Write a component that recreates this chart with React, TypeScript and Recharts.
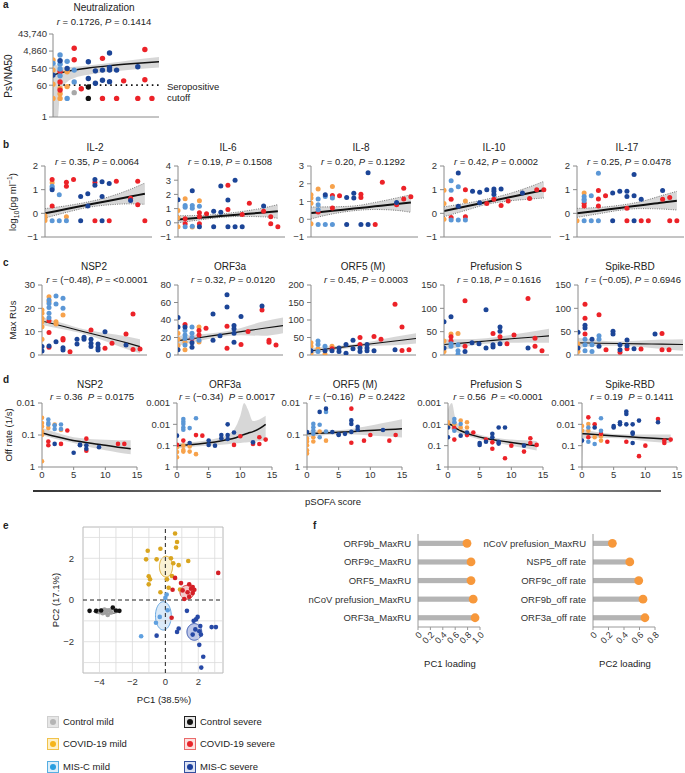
import React from 'react';
import {
  Area,
  Bar,
  BarChart,
  ComposedChart,
  Line,
  ReferenceArea,
  ReferenceLine,
  Scatter,
  XAxis,
  YAxis,
} from 'recharts';

// [pSOFA, value, group]  groups: 0 ctrl mild, 1 ctrl severe, 2 covid mild, 3 covid severe, 4 MIS-C mild, 5 MIS-C severe
type Pt = [number, number, number];
// [x, fit, band low, band high]
type Fit = [number, number, number, number];

const FONT = "'Liberation Sans', Arial, Helvetica, sans-serif";
const COL = ['#a8a8a8', '#111111', '#f7a24b', '#ec2228', '#5b97d6', '#1c4597'];
const E_COL = ['#a0a0a0', '#111111', '#d9a51f', '#d41f26', '#5fa0e0', '#2749a6'];
const GROUPS = [0, 1, 2, 3, 4, 5];
const PSOFA_TICKS = [0, 1, 2, 3, 4, 5, 6, 7, 8, 9, 10, 11, 12, 13, 14, 15];
const PSOFA_LABELS = [0, 5, 10, 15];

// ---- a: neutralization ----
const NEUT: Pt[] = [
  [0, 1550, 2], [0, 420, 2], [0, 68, 2], [0, 11, 2], [0, 220, 5], [0, 1000, 4],
  [1, 11, 2], [1, 20, 2], [1, 40, 2], [1, 900, 4], [1, 480, 4], [1, 200, 4], [1, 2950, 4], [1, 1400, 5], [1, 340, 3], [1, 92, 3], [1, 32, 3],
  [2, 340, 2], [2, 50, 2], [2, 1290, 4], [2, 11, 4], [2, 520, 5],
  [3, 7000, 3], [3, 1600, 3], [3, 420, 4], [3, 92, 4], [3, 23, 0],
  [4, 38, 3],
  [5, 48, 1], [5, 11, 1], [5, 1230, 5], [5, 142, 5],
  [6, 380, 5], [6, 77, 5],
  [7, 420, 5], [7, 114, 5], [7, 1900, 3], [7, 11, 3],
  [8, 590, 5], [8, 420, 5], [8, 3800, 5], [8, 95, 5],
  [9, 420, 5], [9, 11, 3],
  [10, 105, 3],
  [12, 650, 5], [12, 11, 3],
  [13, 5900, 3], [13, 120, 3],
  [14, 11, 3],
];
const NEUT_FIT: Fit[] = [
  [0, 220, 1, 950], [0.7, 265, 1, 720], [1, 285, 25, 650], [2, 350, 90, 600], [3, 420, 150, 640],
  [5, 550, 230, 770], [8, 750, 340, 1050], [11, 950, 440, 1500], [15, 1230, 580, 2300],
];
const NEUT_TICKS = [1, 60, 540, 4860, 43740];
const CUTOFF = 60;

// ---- b: cytokines ----
const IL2: Pt[] = [
  [0, -0.2, 2], [0, -0.3, 2], [0, -0.1, 2],
  [1, 1.14, 4], [1, 1.07, 4], [1, 1.0, 5], [1, 1.29, 2], [1, 1.43, 3], [1, 0.31, 3], [1, -0.31, 4],
  [2, 0.79, 4], [2, -0.31, 4],
  [3, 1.31, 3], [3, 1.14, 3], [3, -0.14, 2], [3, -0.31, 4],
  [4, 1.43, 3],
  [5, 0.71, 5], [5, -0.31, 5],
  [6, 0.83, 5], [6, 0.31, 5],
  [7, 1.43, 5], [7, 1.3, 3], [7, 1.19, 5], [7, -0.31, 3],
  [8, 1.33, 5], [8, 0.71, 5], [8, -0.31, 5],
  [9, 1.26, 5], [9, -0.31, 3],
  [10, 1.36, 3],
  [12, 0.64, 3], [12, 0.54, 5],
  [13, 1.36, 3], [13, 0.36, 3],
  [14, -0.31, 3],
];
const IL2_FIT: Fit[] = [[0, 0, -0.2, 0.2], [3, 0.18, 0.04, 0.32], [6, 0.36, 0.25, 0.48], [9, 0.53, 0.36, 0.7], [12, 0.71, 0.4, 1.02], [14, 0.83, 0.38, 1.28]];

const IL6: Pt[] = [
  [0, 1.63, 5], [0, 0.86, 2], [0, 0.35, 2], [0, -0.28, 2],
  [1, 1.7, 2], [1, 1.21, 4], [1, 1.1, 4], [1, 0.28, 3], [1, -0.07, 3], [1, -0.28, 4],
  [2, 2.26, 5], [2, 1.21, 4], [2, 1.02, 4], [2, -0.3, 2], [2, -0.25, 4],
  [3, 1.56, 2], [3, 1.16, 4], [3, 0.7, 3], [3, 0.42, 3], [3, -0.07, 3], [3, -0.28, 5],
  [4, 0.63, 3],
  [5, -0.28, 5], [5, 0.81, 5],
  [6, 0.74, 5], [6, 2.6, 5],
  [7, 2.65, 3], [7, 0.93, 3], [7, 1.6, 5], [7, -0.28, 5],
  [8, 3.0, 5], [8, -0.28, 5],
  [9, -0.28, 5], [9, 0.58, 3],
  [10, 1.37, 3],
  [12, 1.19, 5], [12, 0.81, 3],
  [13, 0.42, 3], [13, -0.07, 3],
  [14, -0.28, 3],
];
const IL6_FIT: Fit[] = [[0, 0.23, 0, 0.5], [3, 0.35, 0.2, 0.52], [6, 0.48, 0.38, 0.62], [9, 0.6, 0.45, 0.8], [12, 0.72, 0.42, 1.05], [14, 0.81, 0.32, 1.28]];

const IL8: Pt[] = [
  [0, 1.38, 2], [0, 1.2, 2], [0, 0.9, 2], [0, -0.26, 2],
  [1, 1.7, 2], [1, 1.14, 4], [1, 0.82, 4], [1, 0.54, 4], [1, 0.41, 3], [1, -0.3, 4],
  [2, 1.38, 5], [2, 1.28, 4], [2, -0.3, 4],
  [3, 1.84, 2], [3, 1.34, 3], [3, 1.2, 4], [3, 0.63, 3], [3, -0.3, 4],
  [4, 1.32, 3],
  [5, 1.23, 5], [5, -0.3, 5],
  [6, 1.46, 5], [6, 1.2, 5],
  [7, 1.41, 3], [7, 1.23, 3], [7, -0.3, 5],
  [8, 2.62, 5], [8, -0.3, 5],
  [9, -0.3, 3],
  [10, 2.08, 3],
  [12, 0.95, 5], [12, 0.82, 3],
  [13, 1.75, 3], [13, 1.14, 3],
  [14, 1.27, 3],
];
const IL8_FIT: Fit[] = [[0, 0.35, 0.02, 0.69], [3, 0.48, 0.3, 0.7], [6, 0.6, 0.48, 0.75], [9, 0.73, 0.55, 0.95], [12, 0.86, 0.5, 1.2], [14, 0.95, 0.39, 1.38]];

const IL10: Pt[] = [
  [0, 0.42, 2], [0, -0.25, 2], [0, 0.98, 2],
  [1, 0.98, 4], [1, 1.38, 4], [1, 0.59, 3], [1, -0.18, 3], [1, -0.28, 4],
  [2, 1.7, 5], [2, 1.12, 4], [2, 0.3, 5], [2, -0.28, 4],
  [3, 1.0, 3], [3, 0.52, 2], [3, -0.14, 3], [3, -0.28, 4],
  [4, 0.93, 5],
  [5, 0.89, 5], [5, 0.45, 5],
  [6, 1.0, 5], [6, 0.42, 3],
  [7, 1.03, 5], [7, 0.93, 5], [7, 0.8, 5], [7, 0.59, 3],
  [8, 0.33, 3], [8, 1.03, 5],
  [9, 0.52, 3],
  [11, 0.86, 5],
  [12, 0.63, 3], [13, 1.0, 3], [14, 1.0, 3],
];
const IL10_FIT: Fit[] = [[0, 0.1, -0.14, 0.28], [3, 0.29, 0.12, 0.42], [6, 0.48, 0.38, 0.6], [9, 0.67, 0.52, 0.82], [12, 0.86, 0.6, 1.12], [14, 0.98, 0.65, 1.35]];

const IL17: Pt[] = [
  [0, -0.31, 2],
  [1, 0.86, 2], [1, 0.71, 4], [1, 0.6, 4], [1, 0.53, 4], [1, 0.43, 3], [1, 0.31, 3], [1, -0.31, 4],
  [2, 0.74, 4], [2, -0.31, 4],
  [3, 0.96, 3], [3, 1.69, 4], [3, 0.61, 3], [3, 0.31, 3], [3, -0.31, 4],
  [4, 0.74, 3],
  [5, 0.86, 5], [5, -0.31, 5],
  [6, 0.93, 5],
  [7, 0.93, 5], [7, 0.71, 5], [7, 0.21, 3], [7, -0.31, 3],
  [8, 1.64, 5], [8, 0.74, 5], [8, -0.31, 5],
  [9, -0.31, 3], [9, 0.6, 5],
  [10, -0.31, 3],
  [12, 0.97, 5], [12, 0.6, 3],
  [13, -0.31, 3], [13, 0.67, 3],
  [14, -0.31, 3],
];
const IL17_FIT: Fit[] = [[0, 0, -0.17, 0.21], [3, 0.11, -0.02, 0.25], [6, 0.23, 0.13, 0.34], [9, 0.34, 0.2, 0.5], [12, 0.46, 0.18, 0.76], [14, 0.53, 0.14, 0.93]];

const B_TITLES = ['IL-2', 'IL-6', 'IL-8', 'IL-10', 'IL-17'];
const B_R = ['0.35', '0.19', '0.20', '0.42', '0.25'];
const B_P = ['0.0064', '0.1508', '0.1292', '0.0002', '0.0478'];
const B_TICKS = [[-1, 0, 1, 2], [-1, 0, 1, 2, 3, 4], [-1, 0, 1, 2, 3], [-1, 0, 1, 2], [-1, 0, 1, 2]];
const B_PTS = [IL2, IL6, IL8, IL10, IL17];
const B_FITS = [IL2_FIT, IL6_FIT, IL8_FIT, IL10_FIT, IL17_FIT];

// ---- c: max RUs ----
const NSP2_RU: Pt[] = [
  [0, 19.3, 2], [0, 17.9, 2], [0, 15.7, 2], [0, 14.3, 2], [0, 12.1, 2], [0, 6.7, 2], [0, 3.6, 5], [0, 1.7, 5],
  [1, 25, 2], [1, 22.9, 2], [1, 23.6, 4], [1, 22.1, 4], [1, 20.4, 4], [1, 17.9, 4], [1, 16, 4], [1, 14.7, 3], [1, 9.6, 3], [1, 3.9, 5], [1, 3.3, 3],
  [2, 25.3, 4], [2, 21.9, 4], [2, 14.3, 2], [2, 13.3, 2], [2, 5.7, 5],
  [3, 24.3, 4], [3, 20, 4], [3, 17.1, 2], [3, 7.1, 3], [3, 6.4, 3], [3, 3.1, 5], [3, 2.1, 5],
  [4, 1.4, 3],
  [5, 6.7, 5], [5, 4.7, 5],
  [6, 7.6, 5], [6, 6.7, 5],
  [7, 6.7, 5], [7, 5, 5], [7, 3.6, 5], [7, 10.7, 3],
  [8, 4.7, 5], [8, 3.1, 5], [8, 2.1, 5],
  [9, 10, 5], [9, 2.9, 3],
  [10, 5, 3],
  [12, 4.3, 5], [12, 9, 3],
  [13, 17.6, 3], [13, 2.4, 3],
  [14, 2.6, 3],
];
const NSP2_RU_FIT: Fit[] = [[0, 14.6, 12.9, 16.3], [3, 12.3, 11, 13.6], [6, 10, 9, 11], [9, 7.7, 6, 9.4], [12, 5.3, 2.6, 8], [14, 3.6, 0.7, 6.7]];

const ORF3A_RU: Pt[] = [
  [0, 43, 5], [0, 32, 5], [0, 25, 2], [0, 18, 2], [0, 11, 2], [0, 6, 5],
  [1, 35, 3], [1, 32, 5], [1, 28, 4], [1, 23, 4], [1, 19, 4], [1, 14.5, 2], [1, 11.5, 4], [1, 6, 2],
  [2, 32, 4], [2, 25, 4], [2, 20, 4], [2, 14, 5], [2, 9, 5], [2, 19, 3],
  [3, 32, 2], [3, 28, 3], [3, 23, 3], [3, 15, 2], [3, 17, 4],
  [4, 30.5, 3],
  [5, 47, 5], [5, 17, 5],
  [6, 22, 5],
  [7, 69, 5], [7, 55, 5], [7, 33, 3], [7, 7.6, 3],
  [8, 33.6, 5], [8, 30, 5], [8, 25, 5], [8, 14.5, 5],
  [9, 44, 5], [9, 12, 3],
  [10, 27, 3],
  [12, 56, 5], [12, 51.5, 3],
  [13, 17, 3], [13, 14.5, 3],
  [14, 11.5, 3],
];
const ORF3A_RU_FIT: Fit[] = [[0, 16.4, 10.7, 22], [3, 19.8, 16, 23.5], [6, 23.3, 20.5, 26], [9, 26.7, 22.5, 31], [12, 30.2, 22, 38], [15, 33.6, 25, 43]];

const ORF5_RU: Pt[] = [
  [0, 12, 5], [0, 25, 2], [0, 35, 2], [0, 5, 2],
  [1, 10, 4], [1, 18, 2], [1, 30, 4], [1, 40, 4],
  [2, 12, 5], [2, 25, 4], [2, 2, 2],
  [3, 12, 5], [3, 25, 2], [3, 18, 3],
  [4, 20, 5], [4, 10, 5],
  [5, 30, 5], [5, 5, 5],
  [6, 42, 5], [6, 18, 5],
  [7, 50, 3], [7, 30, 3], [7, 20, 5], [7, 10, 5],
  [8, 30, 5], [8, 20, 5], [8, 12, 5],
  [9, 53, 3], [9, 12, 5],
  [10, 45, 3],
  [12, 145, 3], [12, 15, 5],
  [13, 80, 3], [13, 13, 3],
  [14, 15, 3],
];
const ORF5_RU_FIT: Fit[] = [[0, 12, 5, 20], [3, 19, 13, 25], [6, 26, 21, 31], [9, 33, 26, 40], [12, 40, 28, 52], [15, 47, 33, 62]];

const PRE_RU: Pt[] = [
  [0, 71, 5], [0, 15, 5], [0, 30, 2], [0, 7.5, 2],
  [1, 82, 5], [1, 39, 3], [1, 30, 3], [1, 24, 4], [1, 19, 4], [1, 45, 2],
  [2, 46, 2], [2, 22, 4], [2, 9, 4], [2, 1.5, 4],
  [3, 116, 3], [3, 19, 3], [3, 7.5, 5],
  [4, 26, 5],
  [5, 24, 5],
  [6, 97, 5], [6, 15, 5],
  [7, 46, 3], [7, 22, 5], [7, 17, 5],
  [8, 60, 5], [8, 51, 5], [8, 39, 3], [8, 24, 5],
  [9, 24, 3],
  [10, 43, 3],
  [12, 121, 3], [12, 15, 5],
  [13, 36, 3], [13, 19, 3],
  [14, 9, 3],
];
const PRE_RU_FIT: Fit[] = [[0, 22.5, 11, 34], [3, 26, 18, 34], [6, 30, 24, 36], [9, 34, 26, 42], [12, 37.5, 27, 49], [15, 41, 26, 56]];

const RBD_RU: Pt[] = [
  [0, 49, 5], [0, 15, 5], [0, 24, 2], [0, 7.5, 2],
  [1, 109, 3], [1, 79, 3], [1, 64, 5], [1, 58, 5], [1, 45, 3], [1, 34, 4], [1, 22, 4], [1, 9, 4],
  [2, 34, 5], [2, 22, 4], [2, 7.5, 4],
  [3, 86, 3], [3, 41, 4], [3, 34, 4], [3, 19, 5],
  [4, 11, 3],
  [5, 51, 5], [5, 45, 5],
  [6, 22, 5], [6, 11, 5], [6, 6, 3],
  [7, 32, 5], [7, 20, 5], [7, 13.5, 3],
  [8, 13.5, 5],
  [9, 13, 3],
  [11, 45, 5],
  [12, 46, 3], [12, 11, 3],
  [13, 11, 3],
];
const RBD_RU_FIT: Fit[] = [[0, 26, 15, 37], [3, 25.3, 20, 31], [6, 24.6, 20, 29], [9, 23.9, 17, 31], [12, 23.2, 13, 33], [15, 22.5, 9, 34]];

const C_TITLES = ['NSP2', 'ORF3a', 'ORF5 (M)', 'Prefusion S', 'Spike-RBD'];
const C_R = ['(−0.48)', '0.32', '0.45', '0.18', '(−0.05)'];
const C_P = ['<0.0001', '0.0120', '0.0003', '0.1616', '0.6946'];
const C_TICKS = [[0, 10, 20, 30], [0, 20, 40, 60, 80], [0, 50, 100, 150, 200], [0, 50, 100, 150], [0, 50, 100, 150]];
const C_PTS = [NSP2_RU, ORF3A_RU, ORF5_RU, PRE_RU, RBD_RU];
const C_FITS = [NSP2_RU_FIT, ORF3A_RU_FIT, ORF5_RU_FIT, PRE_RU_FIT, RBD_RU_FIT];

// ---- d: off rates ----
const NSP2_OFF: Pt[] = [
  [0, 0.029, 2], [0, 0.042, 2], [0, 0.054, 2], [0, 0.077, 2], [0, 0.1, 2], [0, 0.66, 2],
  [1, 0.033, 4], [1, 0.042, 4], [1, 0.047, 4], [1, 0.06, 2], [1, 0.16, 3], [1, 0.21, 3],
  [2, 0.05, 4], [2, 0.065, 4], [2, 0.047, 2], [2, 0.19, 5],
  [3, 0.047, 4], [3, 0.065, 4], [3, 0.07, 2], [3, 0.19, 3],
  [4, 0.072, 3],
  [5, 0.36, 5],
  [6, 0.2, 5], [6, 0.21, 5],
  [7, 0.13, 3], [7, 0.21, 5], [7, 0.27, 5], [7, 0.31, 3],
  [9, 0.24, 5],
  [12, 0.19, 3], [13, 0.19, 3],
];
const NSP2_OFF_FIT: Fit[] = [
  [0, 0.087, 0.06, 0.1], [2, 0.11, 0.08, 0.13], [4, 0.135, 0.105, 0.16], [6, 0.16, 0.125, 0.2],
  [8, 0.185, 0.135, 0.25], [10, 0.21, 0.14, 0.3], [12, 0.24, 0.145, 0.35], [14, 0.27, 0.146, 0.4],
];

const ORF3A_OFF: Pt[] = [
  [0, 0.034, 5], [0, 0.12, 2], [0, 0.2, 2], [0, 0.35, 2], [0, 0.09, 3],
  [1, 0.0056, 4], [1, 0.0075, 4], [1, 0.0097, 4], [1, 0.014, 4], [1, 0.018, 4], [1, 0.058, 3], [1, 0.1, 2], [1, 0.19, 2], [1, 0.16, 2],
  [2, 0.015, 4], [2, 0.075, 5], [2, 0.19, 2], [2, 0.11, 2],
  [3, 0.0052, 4], [3, 0.032, 3], [3, 0.25, 2],
  [4, 0.034, 3],
  [5, 0.058, 5], [5, 0.092, 5],
  [6, 0.1, 5],
  [7, 0.032, 5], [7, 0.045, 5],
  [8, 0.01, 5], [8, 0.032, 5], [8, 0.049, 5],
  [9, 0.024, 5], [9, 0.092, 3],
  [10, 0.036, 3],
  [12, 0.07, 5], [12, 0.083, 3],
  [13, 0.04, 3], [13, 0.083, 3],
  [14, 0.052, 3],
];
const ORF3A_OFF_FIT: Fit[] = [
  [0, 0.1, 0.075, 0.135], [2, 0.09, 0.07, 0.115], [4, 0.08, 0.06, 0.105], [6, 0.067, 0.048, 0.095],
  [8, 0.052, 0.03, 0.085], [9, 0.045, 0.018, 0.08], [10, 0.035, 0.004, 0.075], [10.6, 0.03, 0.001, 0.072],
  [11.2, 0.026, 0.002, 0.07], [12, 0.022, 0.007, 0.066], [13, 0.016, 0.006, 0.06], [14, 0.01, 0.004, 0.055],
];

const ORF5_OFF: Pt[] = [
  [0, 0.21, 2], [0, 0.3, 2], [0, 0.38, 2], [0, 0.16, 2], [0, 0.081, 5], [0, 0.13, 2],
  [1, 0.072, 4], [1, 0.092, 4], [1, 0.057, 4], [1, 0.117, 2], [1, 0.16, 2], [1, 0.045, 4],
  [2, 0.019, 5], [2, 0.048, 4], [2, 0.078, 2], [2, 0.117, 4],
  [3, 0.015, 5], [3, 0.019, 4], [3, 0.078, 4], [3, 0.15, 2],
  [4, 0.081, 5],
  [5, 0.1, 5], [5, 0.095, 5],
  [6, 0.092, 5],
  [7, 0.015, 3], [7, 0.035, 5], [7, 0.045, 5], [7, 0.175, 3], [7, 0.08, 5],
  [8, 0.055, 5], [8, 0.068, 5],
  [9, 0.15, 3],
  [10, 0.1, 3],
  [12, 0.07, 5],
  [13, 0.15, 3],
  [14, 0.1, 3],
];
const ORF5_OFF_FIT: Fit[] = [[0, 0.092, 0.072, 0.117], [3, 0.086, 0.072, 0.1], [6, 0.08, 0.068, 0.095], [9, 0.074, 0.055, 0.1], [12, 0.069, 0.042, 0.11], [15, 0.064, 0.032, 0.12]];

const PRE_OFF: Pt[] = [
  [0, 0.014, 5], [0, 0.008, 2], [0, 0.04, 5], [0, 0.012, 2],
  [1, 0.0056, 4], [1, 0.008, 4], [1, 0.01, 2], [1, 0.015, 3], [1, 0.02, 4], [1, 0.052, 3],
  [2, 0.0067, 2], [2, 0.0097, 4], [2, 0.014, 2], [2, 0.034, 5],
  [3, 0.008, 2], [3, 0.014, 2], [3, 0.024, 5], [3, 0.032, 3],
  [4, 0.024, 3],
  [5, 0.075, 5], [5, 0.092, 5],
  [6, 0.065, 5], [6, 0.052, 3],
  [7, 0.028, 5], [7, 0.04, 5], [7, 0.14, 3], [7, 0.07, 3],
  [8, 0.014, 5], [8, 0.065, 5], [8, 0.08, 5],
  [9, 0.014, 5], [9, 0.39, 3],
  [10, 0.1, 3],
  [12, 0.19, 3], [12, 0.1, 5],
  [13, 0.045, 3], [13, 0.075, 3],
  [14, 0.092, 3],
];
const PRE_OFF_FIT: Fit[] = [
  [0, 0.009, 0.002, 0.015], [0.6, 0.011, 0.001, 0.018], [1.2, 0.015, 0.006, 0.022], [2, 0.02, 0.013, 0.028],
  [4, 0.033, 0.025, 0.043], [6, 0.046, 0.036, 0.06], [8, 0.058, 0.045, 0.077], [10, 0.071, 0.052, 0.1],
  [12, 0.085, 0.056, 0.13], [14, 0.1, 0.06, 0.17],
];

const RBD_OFF: Pt[] = [
  [0, 0.058, 5], [0, 0.02, 2], [0, 0.012, 2],
  [1, 0.0047, 3], [1, 0.0097, 2], [1, 0.014, 4], [1, 0.02, 2], [1, 0.04, 3], [1, 0.065, 4],
  [2, 0.014, 5], [2, 0.083, 4], [2, 0.01, 3], [2, 0.04, 2],
  [3, 0.0052, 4], [3, 0.02, 4], [3, 0.028, 3], [3, 0.036, 2], [3, 0.058, 2],
  [4, 0.065, 3],
  [5, 0.012, 5], [5, 0.014, 5],
  [6, 0.008, 5], [6, 0.01, 5],
  [7, 0.0025, 5], [7, 0.0033, 5], [7, 0.01, 5], [7, 0.065, 3],
  [8, 0.024, 5], [8, 0.028, 5], [8, 0.075, 5], [8, 0.01, 5],
  [9, 0.0067, 5], [9, 0.31, 3],
  [10, 0.1, 3],
  [12, 0.0056, 3], [12, 0.008, 5],
  [13, 0.058, 3], [13, 0.075, 3],
  [14, 0.052, 3],
];
const RBD_OFF_FIT: Fit[] = [
  [0, 0.028, 0.004, 1], [0.25, 0.028, 0.017, 0.046], [3, 0.032, 0.024, 0.042], [6, 0.036, 0.029, 0.045],
  [9, 0.041, 0.03, 0.055], [12, 0.046, 0.03, 0.07], [14, 0.05, 0.03, 0.075],
];

const D_R = ['0.36', '(−0.34)', '(−0.16)', '0.56', '0.19'];
const D_P = ['0.0175', '0.0017', '0.2422', '<0.0001', '0.1411'];
const D_TICKS = [[0.01, 0.1, 1], [0.001, 0.01, 0.1, 1], [0.01, 0.1, 1], [0.001, 0.01, 0.1, 1], [0.001, 0.01, 0.1, 1]];
const D_PTS = [NSP2_OFF, ORF3A_OFF, ORF5_OFF, PRE_OFF, RBD_OFF];
const D_FITS = [NSP2_OFF_FIT, ORF3A_OFF_FIT, ORF5_OFF_FIT, PRE_OFF_FIT, RBD_OFF_FIT];

// ---- e: PCA ----
const PCA: Pt[] = [
  [-4.0, -0.58, 0], [-3.8, -0.63, 0], [-3.6, -0.55, 0], [-3.5, -0.72, 0], [-3.4, -0.5, 0], [-3.3, -0.6, 0], [-3.7, -0.46, 0],
  [-4.6, -0.52, 1], [-4.2, -0.52, 1], [-3.9, -0.5, 1], [-3.19, -0.36, 1], [-3.0, -0.5, 1], [-2.79, -0.52, 1],
  [0.59, 3.19, 2], [0.71, 2.78, 2], [0.65, 2.52, 2], [-1.07, 2.36, 2], [-0.3, 2.46, 2], [-1.17, 1.95, 2], [-0.53, 1.95, 2],
  [0.34, 2.0, 2], [0.48, 1.76, 2], [0.81, 1.67, 2], [1.39, 1.87, 2], [-1.01, 1.14, 2], [-0.93, 0.99, 2], [-1.01, 0.75, 2],
  [0.1, 0.99, 2], [0.4, 1.15, 2], [0.2, 0.59, 2], [-0.3, 0.37, 2], [0.89, 0.5, 2],
  [3.21, 1.3, 3], [0.59, 1.06, 3], [0.95, 0.81, 3], [1.45, 0.75, 3], [1.56, 0.54, 3], [1.76, 0.49, 3], [1.66, 0.33, 3],
  [1.35, 0.37, 3], [1.05, 0.46, 3], [0.44, 0.49, 3], [1.45, 0.16, 3], [1.15, 0.05, 3], [0.38, -0.85, 3], [1.66, 0.62, 3],
  [0, 0.1, 4], [0.08, 0.26, 4], [0.14, -0.49, 4], [-0.57, -1.09, 4], [-0.34, -0.81, 4], [-1.47, -1.74, 4],
  [1.31, -0.52, 5], [-0.53, -1.71, 5], [0.71, -1.53, 5], [0.81, -1.37, 5], [1.72, -1.0, 5], [1.86, -0.93, 5], [1.96, -0.81, 5],
  [1.82, -1.41, 5], [2.12, -1.25, 5], [2.06, -1.5, 5], [1.66, -1.66, 5], [2.16, -1.66, 5], [2.81, -1.3, 5], [3.07, -1.3, 5],
  [2.06, -2.15, 5], [2.3, -2.72, 5], [2.18, -3.24, 5],
];
// [centre x, centre y, radius x, radius y, group]
const PCA_ELLIPSES = [
  [-3.6, -0.55, 0.75, 0.12, 0],
  [0.04, 1.6, 0.4, 0.5, 2],
  [1.31, 0.37, 0.42, 0.33, 3],
  [-0.12, -0.76, 0.48, 0.68, 4],
  [1.76, -1.53, 0.45, 0.4, 5],
];
const ELL_FILL = ['#b5b5b5', '', '#f8ecc4', '#f2b8b8', '#cfe3f6', '#a9b5e0'];
const ELL_STROKE = ['#555', '', '#d9a520', '#d42424', '#5a9fde', '#2b4ca8'];
const PCA_GRID_X = [-4, -3, -2, -1, 1, 2, 3];
const PCA_GRID_Y = [-3, -2, -1, 1, 2, 3];

const LEG_LABELS = ['Control mild', 'Control severe', 'COVID-19 mild', 'COVID-19 severe', 'MIS-C mild', 'MIS-C severe'];
const LEG_DOT = ['#b5b5b5', '#111', '#f5b51c', '#e8242a', '#2a9fe0', '#1b3f9c'];
const LEG_FILL = ['#e6e6e6', '#e6e6e6', '#fdf0c8', '#fde0e0', '#dceefa', '#dde3f3'];
const LEG_BORDER = ['#cfcfcf', '#222', '#f1c24a', '#ea6a6a', '#56aee2', '#33509f'];

// ---- f: loadings ----
const PC1_LABELS = ['ORF9b_MaxRU', 'ORF9c_MaxRU', 'ORF5_MaxRU', 'nCoV prefusion_MaxRU', 'ORF3a_MaxRU'];
const PC1_VALUES = [0.79, 0.855, 0.855, 0.89, 0.92];
const PC1_TICKS = [0, 0.2, 0.4, 0.6, 0.8, 1.0];
const PC2_LABELS = ['nCoV prefusion_MaxRU', 'NSP5_off rate', 'ORF9c_off rate', 'ORF9b_off rate', 'ORF3a_off rate'];
const PC2_VALUES = [0.25, 0.475, 0.59, 0.645, 0.67];
const PC2_TICKS = [0, 0.2, 0.4, 0.6, 0.8];

const minus = (v: number) => (v < 0 ? `−${Math.abs(v)}` : `${v}`);
const comma = (v: number) => v.toLocaleString('en-US');

function Txt({ x, y, children, size = 9.5, anchor = 'middle', rotate = false, bold = false }: any) {
  const tx = anchor === 'middle' ? '-50%' : anchor === 'end' ? '-100%' : '0';
  return (
    <div
      style={{
        position: 'absolute',
        left: x,
        top: y,
        transform: `translate(${tx}, -50%)${rotate ? ' rotate(-90deg)' : ''}`,
        transformOrigin: rotate ? '50% 50%' : undefined,
        fontSize: size,
        fontWeight: bold ? 700 : 400,
        whiteSpace: 'nowrap',
        lineHeight: 1,
      }}
    >
      {children}
    </div>
  );
}

interface PanelProps {
  x0: number;
  y0: number;
  w: number;
  h: number;
  pts: Pt[];
  fit: Fit[];
  yDomain: [number, number];
  yTicks: number[];
  log?: boolean;
  reversed?: boolean;
  xLabels?: boolean;
  dotted?: boolean;
  lineW?: number;
  r?: number;
  fmt?: (v: number) => string;
  tickMargin?: number;
  extra?: React.ReactNode;
}

function ScatterPanel(p: PanelProps) {
  const ml = 44;
  const mt = 9;
  const mr = 7;
  const mb = p.xLabels ? 18 : 6;
  const pts = p.pts.map(([x, y, g]) => ({ x, y, g }));
  const fit = p.fit.map(([x, f, lo, hi]) => ({ x, fit: f, band: [lo, hi] }));
  const rad = p.r ?? 2.5;
  return (
    <div style={{ position: 'absolute', left: p.x0 - ml, top: p.y0 - mt }}>
      <ComposedChart
        width={p.w + ml + mr}
        height={p.h + mt + mb}
        margin={{ top: mt, right: mr, left: 0, bottom: 0 }}
      >
        <XAxis
          type="number"
          dataKey="x"
          domain={[0, 15]}
          ticks={p.xLabels ? PSOFA_LABELS : PSOFA_TICKS}
          interval={0}
          allowDataOverflow
          height={mb}
          stroke="#8a8a8a"
          tickSize={3}
          tickMargin={1}
          tick={p.xLabels ? { fontSize: 9.5, fill: '#333' } : false}
        />
        <YAxis
          type="number"
          width={ml}
          domain={p.yDomain}
          ticks={p.yTicks}
          interval={0}
          scale={p.log ? 'log' : 'linear'}
          reversed={p.reversed}
          allowDataOverflow
          tickFormatter={p.fmt ?? minus}
          stroke="#8a8a8a"
          tickSize={4}
          tickMargin={p.tickMargin ?? 3}
          tick={{ fontSize: 9.5, fill: '#333' }}
        />
        <Area
          data={fit}
          dataKey="band"
          type="monotone"
          fill="#cdcdcd"
          fillOpacity={0.8}
          stroke={p.dotted ? '#6a6a6a' : 'none'}
          strokeWidth={0.9}
          strokeDasharray="1 1.3"
          isAnimationActive={false}
        />
        {p.extra}
        {GROUPS.map((g) => (
          <Scatter
            key={g}
            data={pts.filter((d) => d.g === g)}
            dataKey="y"
            fill={COL[g]}
            isAnimationActive={false}
            shape={(s: any) => <circle cx={s.cx} cy={s.cy} r={rad} fill={COL[g]} />}
          />
        ))}
        <Line
          data={fit}
          dataKey="fit"
          type="monotone"
          stroke="#111"
          strokeWidth={p.lineW ?? 1.6}
          dot={false}
          isAnimationActive={false}
        />
      </ComposedChart>
    </div>
  );
}

function ellipse(e: number[]) {
  const [cx, cy, rx, ry] = e;
  const out = [];
  for (let i = 0; i <= 30; i++) {
    const t = Math.PI * (1 - i / 30);
    const dy = ry * Math.sin(t);
    out.push({ x: cx + rx * Math.cos(t), band: [cy - dy, cy + dy] });
  }
  return out;
}

function PcaPanel() {
  const ml = 30;
  const mb = 16;
  const mt = 2;
  const pts = PCA.map(([x, y, g]) => ({ x, y, g }));
  return (
    <div style={{ position: 'absolute', left: 83 - ml, top: 527 - mt }}>
      <ComposedChart width={140 + ml + 2} height={146 + mb + mt} margin={{ top: mt, right: 2, left: 0, bottom: 0 }}>
        <XAxis
          type="number"
          dataKey="x"
          domain={[-5, 3.5]}
          ticks={[-4, -2, 0, 2]}
          interval={0}
          allowDataOverflow
          axisLine={false}
          tickLine={false}
          tickSize={0}
          tickMargin={5}
          height={mb}
          tick={{ fontSize: 9.5, fill: '#333' }}
          tickFormatter={minus}
        />
        <YAxis
          type="number"
          domain={[-3.5, 3.5]}
          ticks={[-2, 0, 2]}
          interval={0}
          allowDataOverflow
          axisLine={false}
          tickLine={false}
          tickSize={0}
          tickMargin={9}
          width={ml}
          tick={{ fontSize: 9.5, fill: '#333' }}
          tickFormatter={minus}
        />
        {PCA_GRID_X.map((v) => (
          <ReferenceLine key={'gx' + v} x={v} stroke="#dadada" strokeWidth={0.8} />
        ))}
        {PCA_GRID_Y.map((v) => (
          <ReferenceLine key={'gy' + v} y={v} stroke="#dadada" strokeWidth={0.8} />
        ))}
        <ReferenceArea x1={-5} x2={3.5} y1={-3.5} y2={3.5} fill="none" stroke="#b8b8b8" />
        {PCA_ELLIPSES.map((e, i) => (
          <Area
            key={'el' + i}
            data={ellipse(e)}
            dataKey="band"
            type="linear"
            fill={ELL_FILL[e[4]]}
            fillOpacity={0.75}
            stroke={ELL_STROKE[e[4]]}
            strokeWidth={0.9}
            isAnimationActive={false}
          />
        ))}
        <ReferenceLine x={0} stroke="#222" strokeDasharray="4 3" />
        <ReferenceLine y={0} stroke="#222" strokeDasharray="4 3" />
        {GROUPS.map((g) => (
          <Scatter
            key={g}
            data={pts.filter((d) => d.g === g)}
            dataKey="y"
            fill={E_COL[g]}
            isAnimationActive={false}
            shape={(s: any) => <circle cx={s.cx} cy={s.cy} r={2.3} fill={E_COL[g]} />}
          />
        ))}
      </ComposedChart>
    </div>
  );
}

const Lolly = (p: any) => {
  const cy = p.y + p.height / 2;
  return (
    <g>
      <rect x={p.x} y={cy - 2.6} width={Math.max(0, p.width)} height={5.2} fill="#b4b4b4" />
      <circle cx={p.x + p.width} cy={cy} r={4.4} fill="#f7983b" />
    </g>
  );
};

const CatTick = (p: any) => (
  <text x={p.x} y={p.y} dy={3.4} textAnchor="end" fontSize={9.5} fill="#333">
    {p.payload.value}
  </text>
);

function Loadings({ x0, labels, values, ticks }: { x0: number; labels: string[]; values: number[]; ticks: number[] }) {
  const data = labels.map((name, i) => ({ name, v: values[i] }));
  const yw = 150;
  const mb = 30;
  return (
    <div style={{ position: 'absolute', left: x0 - yw, top: 534 }}>
      <BarChart
        layout="vertical"
        width={yw + 62 + 10}
        height={93 + mb}
        data={data}
        margin={{ top: 0, right: 10, left: 0, bottom: 0 }}
      >
        <XAxis
          type="number"
          domain={[0, ticks[ticks.length - 1]]}
          ticks={ticks}
          interval={0}
          height={mb}
          stroke="#9a9a9a"
          tickSize={3}
          tickMargin={1}
          tick={{ fontSize: 9, fill: '#333', angle: -45, textAnchor: 'end' } as any}
          tickFormatter={(v: number) => (v === 0 ? '0' : v.toFixed(1))}
        />
        <YAxis
          type="category"
          dataKey="name"
          width={yw}
          stroke="#9a9a9a"
          tickLine={false}
          tickSize={0}
          tickMargin={7}
          interval={0}
          tick={CatTick}
        />
        <Bar dataKey="v" isAnimationActive={false} shape={Lolly} />
      </BarChart>
    </div>
  );
}

const B_X = [45, 178, 311, 444, 577];
const C_X = [42, 178, 311, 444, 578];
const D_X = [42, 177, 307, 448, 582];

export default function App() {
  return (
    <div
      style={{
        position: 'absolute',
        left: 0,
        top: 0,
        width: 685,
        height: 773,
        background: '#fff',
        fontFamily: FONT,
        color: '#222',
        overflow: 'hidden',
      }}
    >
      {/* a */}
      <Txt x={3} y={5} bold size={10} anchor="start">a</Txt>
      <Txt x={104} y={8} size={10}>Neutralization</Txt>
      <Txt x={104} y={22}>
        <i>r</i> = 0.1726, <i>P</i> = 0.1414
      </Txt>
      <Txt x={9} y={76} rotate size={10}>PsVNA50</Txt>
      <ScatterPanel
        x0={53}
        y0={34}
        w={106}
        h={83}
        pts={NEUT}
        fit={NEUT_FIT}
        yDomain={[1, 43740]}
        yTicks={NEUT_TICKS}
        log
        fmt={comma}
        r={2.7}
        lineW={1.4}
        tickMargin={2}
        extra={<ReferenceLine y={CUTOFF} stroke="#111" strokeWidth={1.8} strokeDasharray="1.6 3.6" />}
      />
      <Txt x={167} y={87} anchor="start">Seropositive</Txt>
      <Txt x={167} y={98} anchor="start">cutoff</Txt>

      {/* b */}
      <Txt x={3} y={145} bold size={10} anchor="start">b</Txt>
      <Txt x={13} y={202} rotate>
        log<sub style={{ fontSize: 7 }}>10</sub>(pg ml<sup style={{ fontSize: 7 }}>−1</sup>)
      </Txt>
      {B_TITLES.map((t, i) => (
        <React.Fragment key={t}>
          <Txt x={B_X[i] + 50} y={148} size={10}>{t}</Txt>
          <Txt x={B_X[i] + 52} y={162}>
            <i>r</i> = {B_R[i]}, <i>P</i> = {B_P[i]}
          </Txt>
          <ScatterPanel
            x0={B_X[i]}
            y0={166}
            w={107}
            h={71}
            pts={B_PTS[i]}
            fit={B_FITS[i]}
            yDomain={[B_TICKS[i][0], B_TICKS[i][B_TICKS[i].length - 1]]}
            yTicks={B_TICKS[i]}
            dotted
            lineW={2}
          />
        </React.Fragment>
      ))}

      {/* c */}
      <Txt x={3} y={263} bold size={10} anchor="start">c</Txt>
      <Txt x={13} y={320} rotate>Max RUs</Txt>
      {C_TITLES.map((t, i) => (
        <React.Fragment key={t}>
          <Txt x={C_X[i] + 52} y={267} size={10}>{t}</Txt>
          <Txt x={C_X[i] + 55} y={280}>
            <i>r</i> = {C_R[i]}, <i>P</i> = {C_P[i]}
          </Txt>
          <ScatterPanel
            x0={C_X[i]}
            y0={285}
            w={105}
            h={70}
            pts={C_PTS[i]}
            fit={C_FITS[i]}
            yDomain={[0, C_TICKS[i][C_TICKS[i].length - 1]]}
            yTicks={C_TICKS[i]}
            lineW={1.1}
          />
        </React.Fragment>
      ))}

      {/* d */}
      <Txt x={3} y={380} bold size={10} anchor="start">d</Txt>
      <Txt x={9} y={435} rotate>Off rate (1/s)</Txt>
      {C_TITLES.map((t, i) => (
        <React.Fragment key={'d' + t}>
          <Txt x={D_X[i] + 48} y={385} size={10}>{t}</Txt>
          <Txt x={D_X[i] + 50} y={397}>
            <i>r</i> = {D_R[i]}&nbsp;&nbsp;<i>P</i> = {D_P[i]}
          </Txt>
          <ScatterPanel
            x0={D_X[i]}
            y0={403}
            w={95}
            h={64}
            pts={D_PTS[i]}
            fit={D_FITS[i]}
            yDomain={[D_TICKS[i][0], 1]}
            yTicks={D_TICKS[i]}
            log
            reversed
            fmt={(v: number) => String(v)}
            xLabels
            r={2.3}
            lineW={1.5}
          />
        </React.Fragment>
      ))}
      <div
        style={{
          position: 'absolute',
          left: 33,
          top: 490,
          width: 628,
          height: 1.6,
          background: 'linear-gradient(to right, #333, #b5b5b5 55%, #666)',
        }}
      />
      <Txt x={333} y={502}>pSOFA score</Txt>

      {/* e */}
      <Txt x={3} y={526} bold size={10} anchor="start">e</Txt>
      <Txt x={56} y={600} rotate>PC2 (17.1%)</Txt>
      <PcaPanel />
      <Txt x={164} y={700}>PC1 (38.5%)</Txt>
      {LEG_LABELS.map((l, i) => {
        const x = i % 2 === 0 ? 47 : 184;
        const y = [722, 744, 767][Math.floor(i / 2)];
        return (
          <React.Fragment key={l}>
            <div
              style={{
                position: 'absolute',
                left: x,
                top: y - 6,
                width: 10,
                height: 10,
                background: LEG_FILL[i],
                border: `1px solid ${LEG_BORDER[i]}`,
              }}
            >
              <div
                style={{
                  position: 'absolute',
                  left: 2,
                  top: 2,
                  width: 6,
                  height: 6,
                  borderRadius: 3,
                  background: LEG_DOT[i],
                }}
              />
            </div>
            <Txt x={x + 16} y={y} anchor="start">{l}</Txt>
          </React.Fragment>
        );
      })}

      {/* f */}
      <Txt x={313} y={526} bold size={10} anchor="start">f</Txt>
      <Loadings x0={418} labels={PC1_LABELS} values={PC1_VALUES} ticks={PC1_TICKS} />
      <Loadings x0={593} labels={PC2_LABELS} values={PC2_VALUES} ticks={PC2_TICKS} />
      <Txt x={450} y={664}>PC1 loading</Txt>
      <Txt x={625} y={664}>PC2 loading</Txt>
    </div>
  );
}
